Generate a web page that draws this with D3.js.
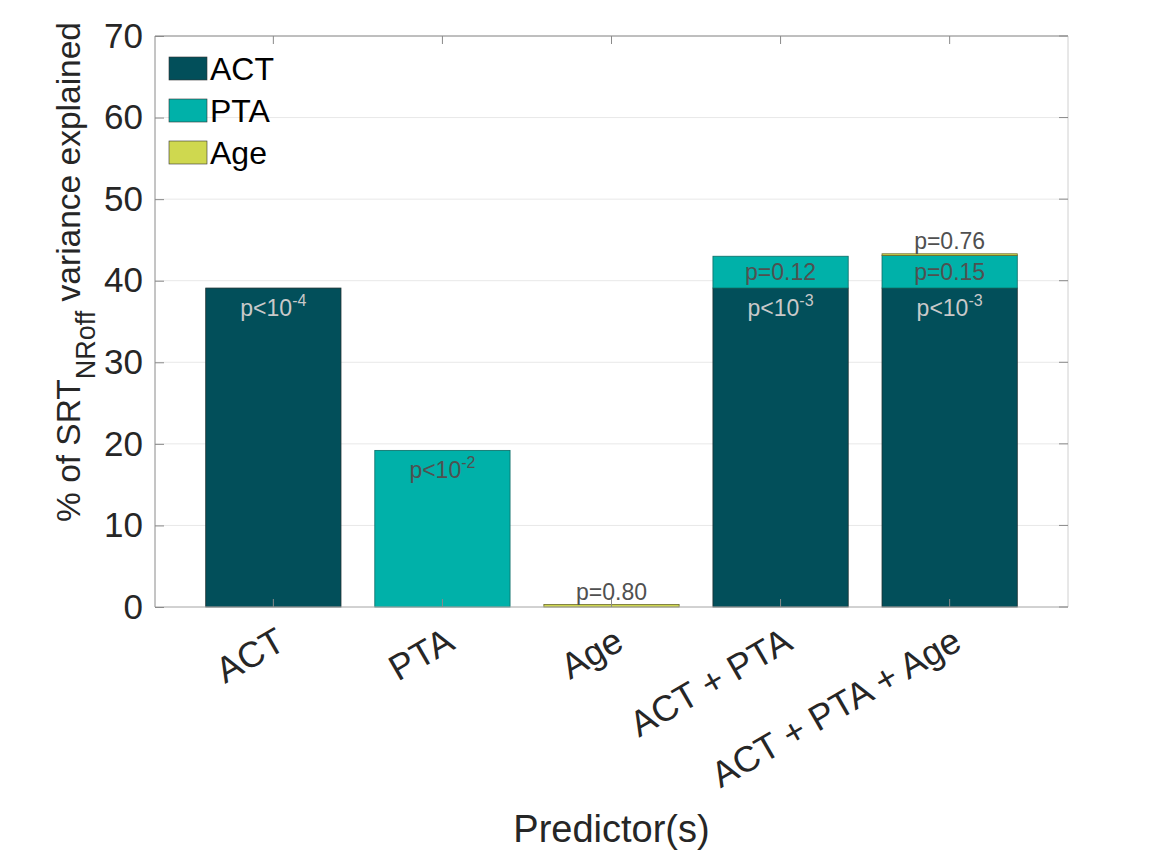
<!DOCTYPE html>
<html>
<head>
<meta charset="utf-8">
<script src="https://cdn.jsdelivr.net/npm/d3@7"></script>
<style>
  body { margin: 0; background: #fff; }
  text { font-family: "Liberation Sans", Arial, sans-serif; }
</style>
</head>
<body>
<div id="chart"></div>
<script>
// data
const categories = ["ACT", "PTA", "Age", "ACT + PTA", "ACT + PTA + Age"];
const seriesNames = ["ACT", "PTA", "Age"];
const actValues = [39.1, 0, 0, 39.1, 39.1];
const ptaValues = [0, 19.2, 0, 3.9, 4.0];
const ageValues = [0, 0, 0.3, 0, 0.2];
// p-value labels: [category index, series, text, exponent, position]
const pLabels = [
    [0, "ACT", "p<10", "-4", "inside"],
    [1, "PTA", "p<10", "-2", "inside"],
    [2, "Age", "p=0.80", null, "above"],
    [3, "ACT", "p<10", "-3", "inside"],
    [3, "PTA", "p=0.12", null, "middle"],
    [4, "ACT", "p<10", "-3", "inside"],
    [4, "PTA", "p=0.15", null, "middle"],
    [4, "Age", "p=0.76", null, "above"]
];
const yTicks = [0, 10, 20, 30, 40, 50, 60, 70];

const colors = {ACT: "#024f5a", PTA: "#00b1a9", Age: "#cfd84f"};
const labelColors = {ACT: "#c9c9c9", PTA: "#505050", Age: "#505050"};

const W = 1153, H = 851;
const m = {top: 36, right: 85, bottom: 244, left: 155};
const innerW = W - m.left - m.right;
const innerH = H - m.top - m.bottom;

const svg = d3.select("#chart").append("svg")
    .attr("width", W)
    .attr("height", H);

const g = svg.append("g")
    .attr("transform", `translate(${m.left},${m.top})`);

const x = d3.scaleLinear().domain([0.3, 5.7]).range([0, innerW]);
const y = d3.scaleLinear().domain([0, 70]).range([innerH, 0]);
const barW = (x(1.8) - x(1));

// grid
g.selectAll(".grid")
    .data(yTicks)
    .enter().append("line")
    .attr("x1", 0).attr("x2", innerW)
    .attr("y1", d => y(d)).attr("y2", d => y(d))
    .attr("stroke", "#e8e8e8")
    .attr("stroke-width", 1);

// stack the series
const rows = categories.map((c, i) => ({ACT: actValues[i], PTA: ptaValues[i], Age: ageValues[i], i: i}));
const stack = d3.stack().keys(seriesNames)(rows);

const strokes = {ACT: "#1c2f30", PTA: "#0b6b66", Age: "#6b6a2a"};
stack.forEach(layer => {
    g.selectAll(".bar-" + layer.key)
        .data(layer.filter(d => d[1] - d[0] > 0))
        .enter().append("rect")
        .attr("x", d => x(d.data.i + 1) - barW / 2)
        .attr("width", barW)
        .attr("y", d => y(d[1]))
        .attr("height", d => y(d[0]) - y(d[1]))
        .attr("fill", colors[layer.key])
        .attr("stroke", strokes[layer.key])
        .attr("stroke-width", 0.8);
});

// p labels
pLabels.forEach(([ci, key, txt, exp, pos]) => {
    const layer = stack.find(l => l.key === key);
    const d = layer[ci];
    let ty, col;
    if (pos === "inside") { ty = y(d[1]) + 28; col = labelColors[key]; }
    else if (pos === "middle") { ty = (y(d[0]) + y(d[1])) / 2 + 8; col = labelColors[key]; }
    else { ty = y(d[1]) - 5; col = "#505050"; }
    const t = g.append("text")
        .attr("x", x(ci + 1))
        .attr("y", ty)
        .attr("text-anchor", "middle")
        .attr("font-size", 23)
        .attr("fill", col);
    t.append("tspan").text(txt);
    if (exp) {
        t.append("tspan").attr("dy", -10).attr("font-size", 16).text(exp);
    }
});

// frame
g.append("line").attr("x1", 0).attr("x2", innerW).attr("y1", 0).attr("y2", 0).attr("stroke", "#8a8a8a");
g.append("line").attr("x1", innerW).attr("x2", innerW).attr("y1", 0).attr("y2", innerH).attr("stroke", "#d0d0d0");
g.append("line").attr("x1", 0).attr("x2", innerW).attr("y1", innerH).attr("y2", innerH).attr("stroke", "#b0b0b0");
g.append("line").attr("x1", 0).attr("x2", 0).attr("y1", 0).attr("y2", innerH).attr("stroke", "#8a8a8a");

// ticks on top and right
g.selectAll(".ttick").data(categories).enter().append("line")
    .attr("x1", (d, i) => x(i + 1)).attr("x2", (d, i) => x(i + 1))
    .attr("y1", 0).attr("y2", 8).attr("stroke", "#8a8a8a");
g.selectAll(".rtick").data(yTicks).enter().append("line")
    .attr("x1", innerW - 9).attr("x2", innerW)
    .attr("y1", d => y(d)).attr("y2", d => y(d)).attr("stroke", "#8a8a8a");

// y axis
const yAxis = g.append("g")
    .call(d3.axisLeft(y).tickValues(yTicks).tickSize(-9).tickPadding(12));
yAxis.select(".domain").remove();
yAxis.selectAll("line").attr("stroke", "#8a8a8a");
yAxis.selectAll("text").attr("font-size", 35).attr("fill", "#262626")
    .attr("font-family", "Liberation Sans, Arial, sans-serif");

// x tick labels rotated
g.selectAll(".xlab").data(categories).enter().append("text")
    .attr("transform", (d, i) => `translate(${x(i + 1) + 14},${innerH + 41}) rotate(-30)`)
    .attr("text-anchor", "end")
    .attr("font-size", 36)
    .attr("fill", "#262626")
    .text(d => d);
g.selectAll(".btick").data(categories).enter().append("line")
    .attr("x1", (d, i) => x(i + 1)).attr("x2", (d, i) => x(i + 1))
    .attr("y1", innerH - 8).attr("y2", innerH).attr("stroke", "#8a8a8a");

// axis titles
svg.append("text")
    .attr("x", m.left + innerW / 2)
    .attr("y", 842)
    .attr("text-anchor", "middle")
    .attr("font-size", 38)
    .attr("fill", "#262626")
    .text("Predictor(s)");

const yl = svg.append("text")
    .attr("transform", "translate(80,272) rotate(-90)")
    .attr("text-anchor", "middle")
    .attr("font-size", 33.5)
    .attr("fill", "#262626");
yl.append("tspan").text("% of SRT");
yl.append("tspan").attr("dy", 15).attr("font-size", 27).text("NRoff");
yl.append("tspan").attr("dy", -15).text(" variance explained");

// legend
const legend = g.selectAll(".legend").data(seriesNames).enter().append("g")
    .attr("transform", (d, i) => `translate(14,${21 + i * 42})`);
legend.append("rect")
    .attr("width", 38).attr("height", 23)
    .attr("fill", d => colors[d])
    .attr("stroke", "#333").attr("stroke-width", 0.6);
legend.append("text")
    .attr("x", 41).attr("y", 23)
    .attr("font-size", 32)
    .attr("fill", "#000")
    .text(d => d);
</script>
</body>
</html>
